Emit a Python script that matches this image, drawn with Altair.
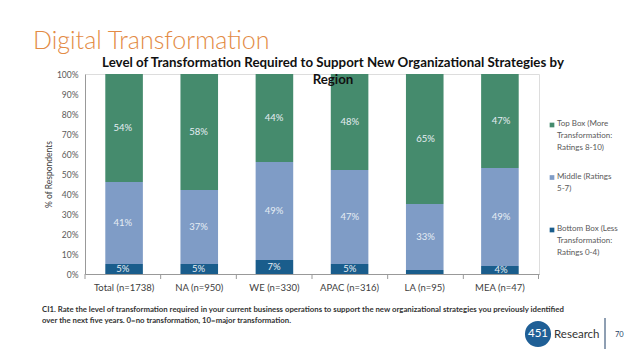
import altair as alt
import pandas as pd

regions = ["Total (n=1738)", "NA (n=950)", "WE (n=330)", "APAC (n=316)", "LA (n=95)", "MEA (n=47)"]
series = ["Bottom Box", "Middle", "Top Box"]
bottom_box = [5, 5, 7, 5, 2, 4]
middle = [41, 37, 49, 47, 33, 49]
top_box = [54, 58, 44, 48, 65, 47]
legend_order = ["Top Box", "Middle", "Bottom Box"]
legend_text = [
    "Top Box (More|Transformation:|Ratings  8-10)",
    "Middle (Ratings|5-7)",
    "Bottom Box (Less|Transformation:|Ratings 0-4)",
]
colors = ["#1A5D8C", "#7F9CC6", "#458B6D"]
y_ticks = [0, 10, 20, 30, 40, 50, 60, 70, 80, 90, 100]

page_title = "Digital Transformation"
chart_title = "Level of  Transformation Required to Support New Organizational Strategies by|Region"
footnote_1 = ("CI1. Rate the level of transformation required in your current business operations "
              "to support the new organizational strategies you previously identified")
footnote_2 = "over the next five years. 0=no transformation, 10=major transformation."

rows = []
for i, r in enumerate(regions):
    for k, (s, vals) in enumerate(zip(series, [bottom_box, middle, top_box])):
        rows.append({"region": r, "series": s, "order": k, "value": vals[i]})
df = pd.DataFrame(rows)

FONT = "Lato"
W, H = 454, 200

x_scale = alt.Scale(paddingInner=0.5, paddingOuter=0.27)
x_enc = alt.X("region:N", sort=regions, scale=x_scale,
              axis=alt.Axis(title=None, labelAngle=0, ticks=False,
                            labelFontSize=9.5, labelColor="#404040", labelFont=FONT,
                            domainColor="#999999", labelPadding=8))
y_scale = alt.Scale(domain=[0, 100], nice=False)
color_enc = alt.Color("series:N", scale=alt.Scale(domain=series, range=colors), legend=None)

bars = alt.Chart(df).mark_bar().encode(
    x=x_enc,
    y=alt.Y("value:Q", stack="zero", scale=y_scale,
            axis=alt.Axis(values=y_ticks, labelExpr="datum.value + '%'", grid=False, ticks=False,
                          title="% of Respondents", titleFont=FONT, titleFontSize=8.5,
                          titleFontWeight="normal", titleColor="#404040", titlePadding=3,
                          labelFont=FONT, labelFontSize=8.5, labelColor="#595959", labelPadding=7,
                          domainColor="#999999")),
    color=color_enc,
    order=alt.Order("order:Q"),
)

labels = alt.Chart(df).transform_stack(
    stack="value", groupby=["region"], as_=["y0", "y1"], sort=[alt.SortField("order")]
).transform_filter("datum.value >= 3").transform_calculate(
    mid="(datum.y0 + datum.y1) / 2", lab="datum.value + '%'"
).mark_text(font=FONT, fontSize=9.5, color="#E6EEF4", baseline="middle").encode(
    x=alt.X("region:N", sort=regions, scale=x_scale, axis=None),
    y=alt.Y("mid:Q", scale=y_scale, axis=None),
    text="lab:N",
)

# category boundary ticks on the x axis (band starts of an unpadded band scale)
reg_df = pd.DataFrame({"region": regions})
tick_x = alt.Chart(reg_df).mark_rule(color="#999999", strokeWidth=1).encode(
    x=alt.X("region:N", sort=regions, bandPosition=0,
            scale=alt.Scale(paddingInner=0, paddingOuter=0), axis=None),
    y=alt.value(H), y2=alt.value(H + 5))
tick_end = alt.Chart(reg_df.head(1)).mark_rule(color="#999999", strokeWidth=1).encode(
    x=alt.value(W - 0.5), y=alt.value(H), y2=alt.value(H + 5))

leg_df = pd.DataFrame({"series": legend_order, "txt": legend_text})
leg_y = alt.Y("series:N", sort=legend_order,
              scale=alt.Scale(type="point", domain=legend_order, range=[51, 156], padding=0), axis=None)
leg_sym = alt.Chart(leg_df).mark_square(size=22, opacity=1).encode(
    x=alt.value(467), y=leg_y, color=color_enc)
leg_txt = alt.Chart(leg_df).mark_text(font=FONT, fontSize=8, color="#595959", align="left",
                                      baseline="top", dy=-5, lineBreak="|", lineHeight=12).encode(
    x=alt.value(472), y=leg_y, text="txt:N")

one = pd.DataFrame({"t": [page_title], "c": [chart_title], "f1": [footnote_1], "f2": [footnote_2],
                    "logo": ["451"], "r": ["Research"], "p": ["70"]})
t_page = alt.Chart(one).mark_text(font=FONT, fontSize=25, fontWeight=300, color="#E38B45",
                                  align="left", baseline="alphabetic").encode(
    x=alt.value(-52), y=alt.value(-25), text="t:N")
t_chart = alt.Chart(one).mark_text(font=FONT, fontSize=13.3, fontWeight="bold", color="#111111",
                                   align="center", baseline="alphabetic", lineBreak="|", lineHeight=17).encode(
    x=alt.value(248), y=alt.value(-7), text="c:N")
foot_base = alt.Chart(one).mark_text(font=FONT, fontSize=7.8, fontWeight="bold", color="#333333",
                                     align="left", baseline="middle")
t_foot1 = foot_base.encode(x=alt.value(-43), y=alt.value(236), text="f1:N")
t_foot2 = foot_base.encode(x=alt.value(-43), y=alt.value(247), text="f2:N")
logo_c = alt.Chart(one).mark_point(filled=True, shape="circle", size=680, color="#1F5F96", opacity=1).encode(
    x=alt.value(453), y=alt.value(260))
logo_t = alt.Chart(one).mark_text(font=FONT, fontSize=11.5, color="white", baseline="middle").encode(
    x=alt.value(453), y=alt.value(260), text="logo:N")
logo_r = alt.Chart(one).mark_text(font=FONT, fontSize=11.5, color="#333333", align="left", baseline="middle").encode(
    x=alt.value(469), y=alt.value(261), text="r:N")
logo_l = alt.Chart(one).mark_rule(color="#1F3F66", strokeWidth=1).encode(
    x=alt.value(520), y=alt.value(244), y2=alt.value(275))
logo_p = alt.Chart(one).mark_text(font=FONT, fontSize=7.5, color="#1F3F66", align="left", baseline="middle").encode(
    x=alt.value(530), y=alt.value(261), text="p:N")

chart = alt.layer(
    bars, labels, tick_x, tick_end, leg_sym, leg_txt, t_page, t_chart, t_foot1, t_foot2,
    logo_c, logo_t, logo_r, logo_l, logo_p
).resolve_scale(x="independent", y="independent").properties(
    width=W, height=H,
    autosize=alt.AutoSizeParams(type="none"),
    padding={"left": 77, "top": 66, "right": 91, "bottom": 77},
).configure_view(stroke=None).configure(background="white")

chart.save("out.html", embed_options={"renderer": "svg", "actions": False})
